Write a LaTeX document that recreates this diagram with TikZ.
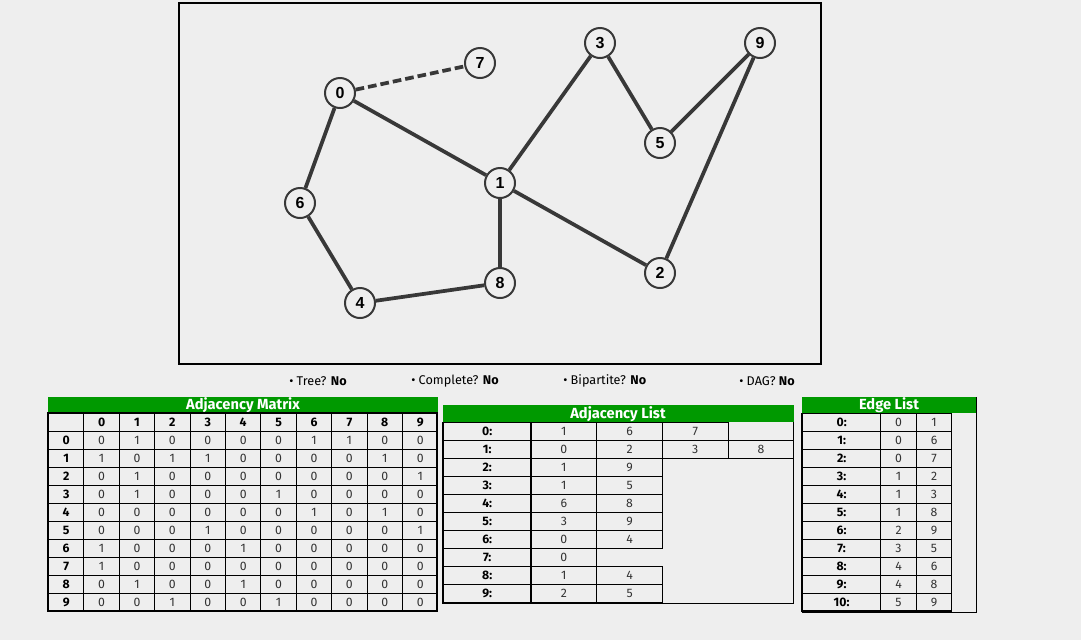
\documentclass[tikz,border=0pt]{standalone}
\usepackage{fontspec}
\setmainfont{Fira Sans}
\newfontfamily\vertexfont{Liberation Sans}
\usetikzlibrary{positioning}
\definecolor{pagebg}{HTML}{EEEEEE}
\definecolor{edgegray}{HTML}{383838}
\definecolor{headgreen}{HTML}{009900}
\definecolor{valgray}{HTML}{333333}

\begin{document}
\begin{tikzpicture}[
      x=0.75pt, y=-0.75pt,
      vertex/.style = {circle, draw=edgegray, line width=1.5pt, fill=pagebg,
                       minimum size=22.5pt, inner sep=0pt,
                       font=\vertexfont\bfseries\fontsize{12}{12}\selectfont},
      edge/.style = {edgegray, line width=2.8pt},
      status/.style = {anchor=west, inner sep=0pt, font=\fontsize{9.5}{10}\selectfont},
      head/.style = {text=white, inner sep=0pt, font=\bfseries\fontsize{11}{12}\selectfont},
      cell/.style = {draw, line width=0.75pt, anchor=north west, inner sep=0pt,
                     minimum height=13.5pt},
      hcell/.style = {cell, font=\bfseries\fontsize{9.2}{10}\selectfont},
      vcell/.style = {cell, text=valgray, font=\fontsize{9.2}{10}\selectfont},
      amcell/.style = {minimum width=26.55pt},
      allabel/.style = {minimum width=65.6pt},
      alcell/.style = {minimum width=49.3pt},
      ellabel/.style = {minimum width=58.7pt},
      elcell/.style = {minimum width=26.6pt}
    ]
    \fill[pagebg] (0,0) rectangle (1081,640);
    \useasboundingbox (0,0) rectangle (1081,640);

    % Graph frame
    \draw[line width=1.5pt] (179,3) rectangle (821,364);

    % Vertices
    \foreach \n/\x/\y in {0/340/93, 1/500/183, 2/660/273, 3/600/43, 4/360/303,
                          5/660/143, 6/300/203, 7/480/63, 8/500/283, 9/760/43}
      \node[vertex] (v\n) at (\x,\y) {\n};

    % Edges
    \draw[edge, dash pattern=on 6.5pt off 3pt] (v0) -- (v7);
    \foreach \a/\b in {0/1, 0/6, 1/2, 1/3, 1/8, 2/9, 3/5, 4/6, 4/8, 5/9}
      \draw[edge] (v\a) -- (v\b);

    % Properties
    \node[status] (tree) at (289,381) {\textbullet\ Tree? \textbf{No}};
    \node[status] (complete) at (411,381) {\textbullet\ Complete? \textbf{No}};
    \node[status] (bipartite) at (563,381) {\textbullet\ Bipartite? \textbf{No}};
    \node[status] (dag) at (739,381) {\textbullet\ DAG? \textbf{No}};

    % Adjacency matrix
    \fill[headgreen] (48,397) rectangle (438,413);
    \node[head] (am-title) at (243,405) {Adjacency Matrix};
    \node[hcell, amcell] (am-corner) at (48,413) {};
    \foreach \c in {0,...,9}
      \node[hcell, amcell] (am-h\c) at ({83.4+35.4*\c},413) {\c};
    \foreach \r/\vals in {0/{0,1,0,0,0,0,1,1,0,0}, 1/{1,0,1,1,0,0,0,0,1,0},
                          2/{0,1,0,0,0,0,0,0,0,1}, 3/{0,1,0,0,0,1,0,0,0,0},
                          4/{0,0,0,0,0,0,1,0,1,0}, 5/{0,0,0,1,0,0,0,0,0,1},
                          6/{1,0,0,0,1,0,0,0,0,0}, 7/{1,0,0,0,0,0,0,0,0,0},
                          8/{0,1,0,0,1,0,0,0,0,0}, 9/{0,0,1,0,0,1,0,0,0,0}} {
      \node[hcell, amcell] (am-\r) at (48,{431+18*\r}) {\r};
      \foreach \v [count=\c from 0] in \vals
        \node[vcell, amcell] (am-\r-\c) at ({83.4+35.4*\c},{431+18*\r}) {\v};
    }
    \draw[line width=1.5pt] (48,413) rectangle (437.4,611);

    % Adjacency list
    \draw[line width=0.75pt] (443,405) rectangle (793.5,603);
    \fill[headgreen] (443,405) rectangle (793.5,422.3);
    \node[head] (al-title) at (618,414) {Adjacency List};
    \foreach \r/\vals in {0/{1,6,7}, 1/{0,2,3,8}, 2/{1,9}, 3/{1,5}, 4/{6,8},
                          5/{3,9}, 6/{0,4}, 7/{0}, 8/{1,4}, 9/{2,5}} {
      \node[hcell, allabel] (al-\r) at (443,{422.3+18*\r}) {\r:};
      \foreach \v [count=\c from 0] in \vals
        \node[vcell, alcell] (al-\r-\c) at ({530.5+65.7*\c},{422.3+18*\r}) {\v};
    }
    \draw[line width=1.5pt] (443,422.3) -- (443,603) -- (661.5,603);

    % Edge list
    \draw[line width=0.75pt] (802,397) rectangle (976,612);
    \fill[headgreen] (802,397) rectangle (976,413.3);
    \node[head] (el-title) at (889,405) {Edge List};
    \foreach \r/\a/\b in {0/0/1, 1/0/6, 2/0/7, 3/1/2, 4/1/3, 5/1/8,
                          6/2/9, 7/3/5, 8/4/6, 9/4/8, 10/5/9} {
      \node[hcell, ellabel] (el-\r) at (802,{413.3+18*\r}) {\r:};
      \node[vcell, elcell] (el-\r-a) at (880.3,{413.3+18*\r}) {\a};
      \node[vcell, elcell] (el-\r-b) at (915.8,{413.3+18*\r}) {\b};
    }
    \draw[line width=1.5pt] (802,413.3) -- (802,611.3) -- (951.3,611.3);
  \end{tikzpicture}
\end{document}
